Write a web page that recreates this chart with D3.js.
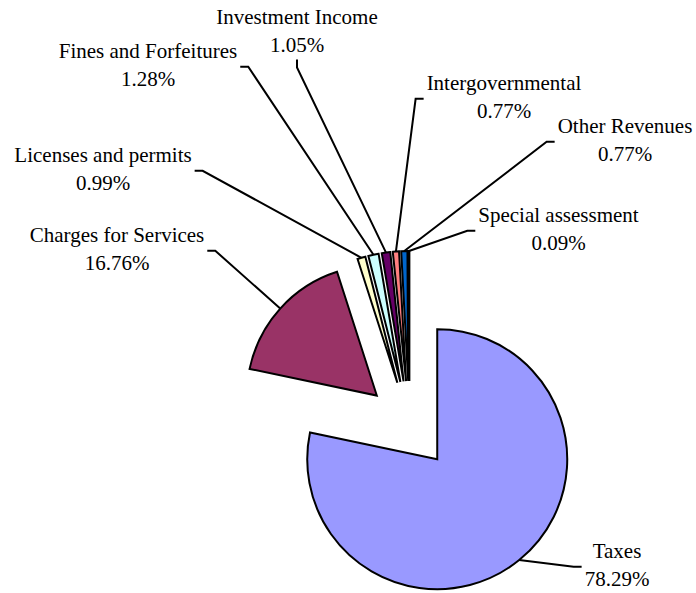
<!DOCTYPE html>
<html>
<head>
<meta charset="utf-8">
<script src="https://cdn.jsdelivr.net/npm/d3@7"></script>
<style>
  body { margin: 0; background: #fff; }
  text { font-family: "Liberation Serif", "Times New Roman", serif; font-size: 21px; fill: #000; }
</style>
</head>
<body>
<svg width="696" height="593"></svg>
<script>
// data
var categories = ["Taxes", "Charges for Services", "Licenses and permits", "Fines and Forfeitures",
  "Investment Income", "Intergovernmental", "Other Revenues", "Special assessment"];
var values = [78.29, 16.76, 0.99, 1.28, 1.05, 0.77, 0.77, 0.09];
var colors = ["#9999FF", "#993366", "#FFFFCC", "#CCFFFF", "#660066", "#FF8080", "#0066CC", "#CCCCFF"];

// label layout: centre x, first baseline, side the leader leaves from
var labelPos = [
  [617, 558, "left"],
  [117, 242, "right"],
  [103, 162, "right"],
  [148, 58, "right"],
  [297, 24, "bottom"],
  [504, 90, "left"],
  [625, 133, "left"],
  [558.5, 222, "left"]
];

var svg = d3.select("svg"),
  cx = 409.5, cy = 425,
  radius = 130,
  explode = 44,
  lineGap = 27.5,
  g = svg.append("g").attr("transform", "translate(" + cx + "," + cy + ")");

var pie = d3.pie().sort(null).value(function(d) { return d; });
var arcs = pie(values);

var arc = d3.arc().innerRadius(0).outerRadius(radius);

function mid(d) { return (d.startAngle + d.endAngle) / 2; }
function offset(d, r) {
  var a = mid(d);
  return [Math.sin(a) * r, -Math.cos(a) * r];
}

// slices, each pushed out along its own mid angle
g.selectAll("path.slice")
  .data(arcs)
  .enter().append("path")
  .attr("class", "slice")
  .attr("transform", function(d) {
    var o = offset(d, explode);
    return "translate(" + o[0] + "," + o[1] + ")";
  })
  .attr("d", arc)
  .style("fill", function(d, i) { return colors[i]; })
  .style("stroke", "#000")
  .style("stroke-width", 2)
  .style("stroke-linejoin", "miter");

// labels
var labels = svg.selectAll("text.label")
  .data(arcs)
  .enter().append("text")
  .attr("class", "label")
  .attr("text-anchor", "middle");

labels.append("tspan")
  .attr("x", function(d, i) { return labelPos[i][0]; })
  .attr("y", function(d, i) { return labelPos[i][1]; })
  .text(function(d, i) { return categories[i]; });

labels.append("tspan")
  .attr("x", function(d, i) { return labelPos[i][0]; })
  .attr("y", function(d, i) { return labelPos[i][1] + lineGap; })
  .text(function(d, i) { return values[i].toFixed(2) + "%"; });

// leader lines
var line = d3.line();
labels.each(function(d, i) {
  var box = this.getBBox(),
    p = labelPos[i],
    midY = p[1] + lineGap / 2 - 5,
    pts;
  if (p[2] == "right") {
    var x0 = box.x + box.width + 3;
    pts = [[x0, midY], [x0 + 8, midY]];
  } else if (p[2] == "left") {
    var x1 = box.x - 3;
    pts = [[x1, midY], [x1 - 8, midY]];
  } else {
    var y0 = box.y + box.height + 3;
    pts = [[p[0], y0], [p[0], y0 + 8]];
  }
  var o = offset(d, explode + radius);
  pts.push([cx + o[0], cy + o[1]]);
  svg.append("path")
    .attr("d", line(pts))
    .style("fill", "none")
    .style("stroke", "#000")
    .style("stroke-width", 2);
});
</script>
</body>
</html>
